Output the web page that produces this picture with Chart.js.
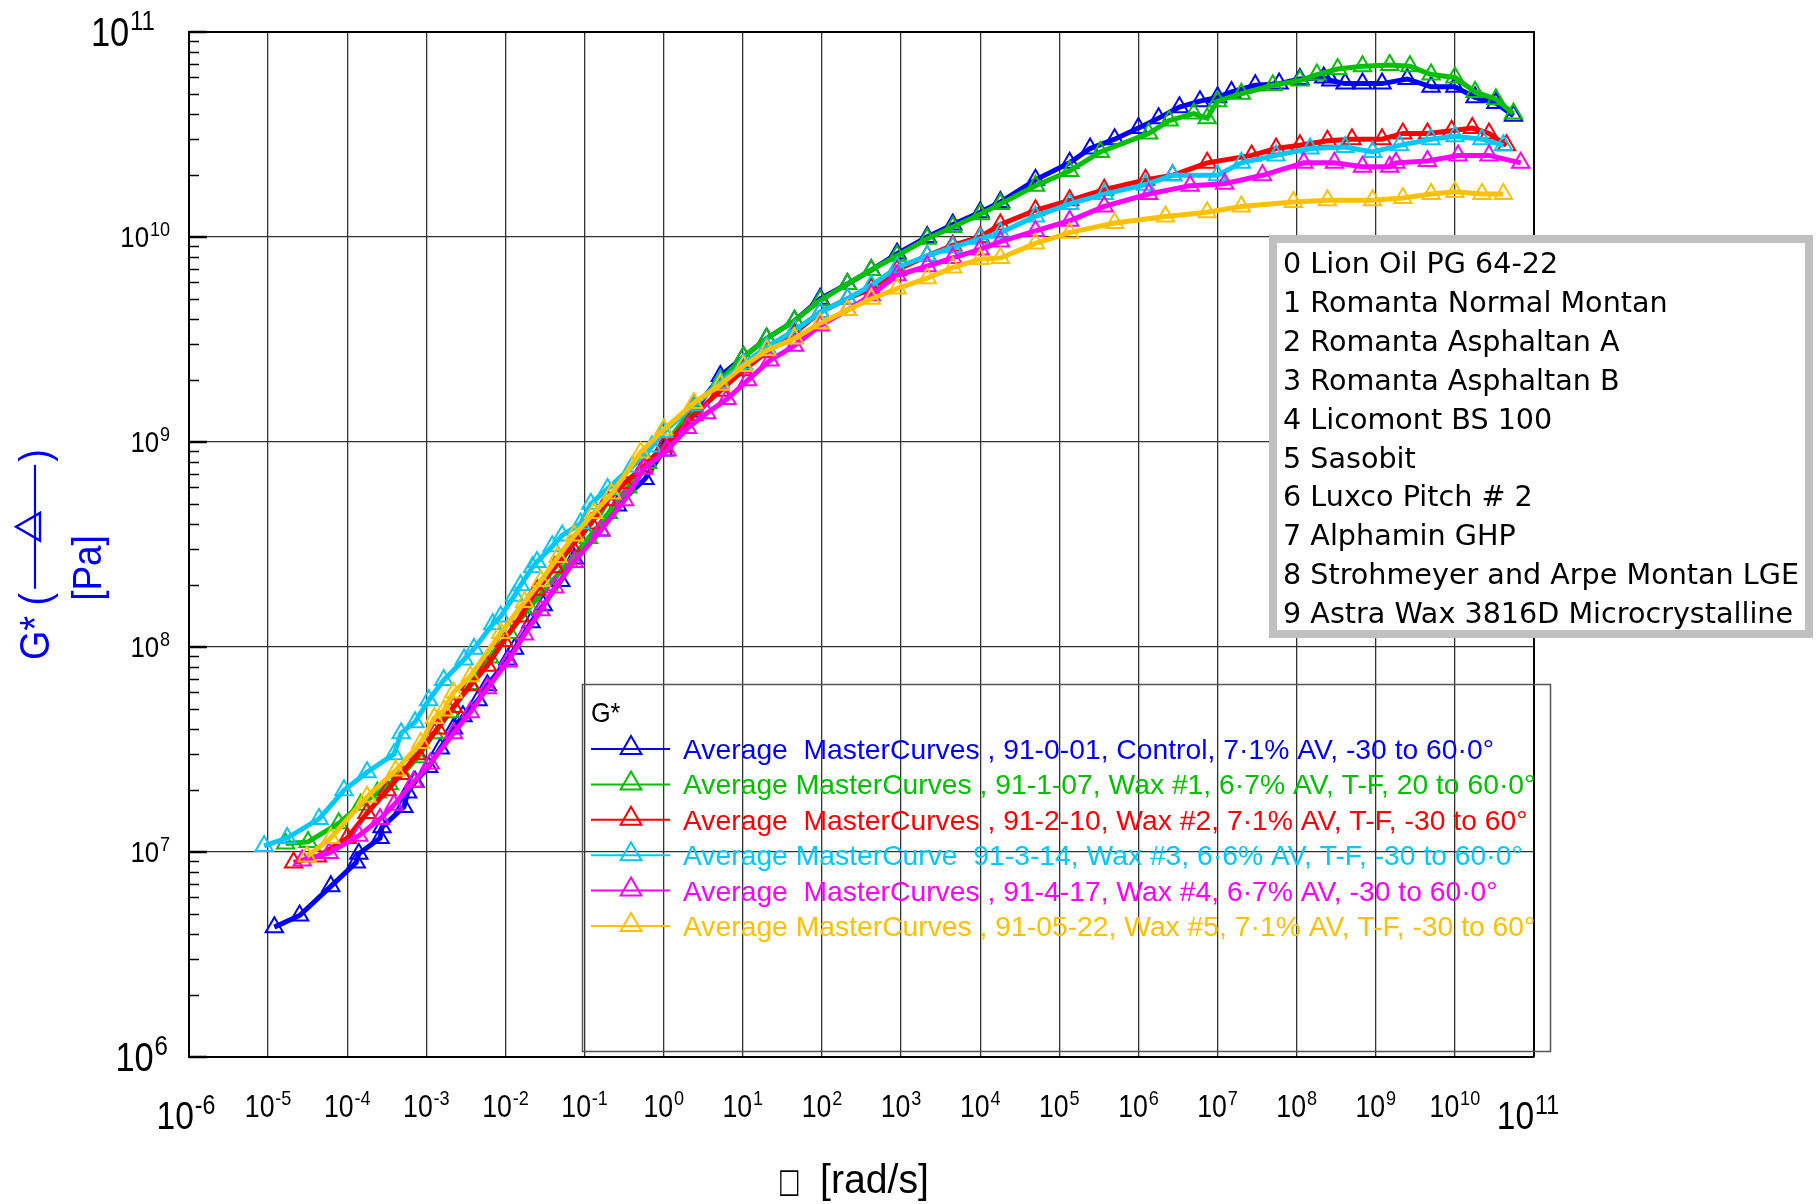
<!DOCTYPE html>
<html>
<head>
<meta charset="utf-8">
<script src="https://cdn.jsdelivr.net/npm/chart.js@4.4.1/dist/chart.umd.min.js"></script>
<style>
html,body{margin:0;padding:0;background:#ffffff;}
#wrap{width:1816px;height:1204px;position:relative;}
</style>
</head>
<body>
<div id="wrap"><canvas id="c" width="1816" height="1204"></canvas></div>
<script>
// ---------- DATA ----------
const W_CONTROL = [1.2e-5, 2.5e-5, 6.2e-5, 1.3e-4, 1.4e-4, 2.6e-4, 2.75e-4, 5.2e-4, 5.8e-4, 7.2e-4, 1.07e-3, 1.5e-3, 2.2e-3, 2.9e-3, 4.5e-3, 5.9e-3, 1.07e-2, 1.3e-2, 2.1e-2, 3.0e-2, 5.0e-2, 7.4e-2, 0.16, 0.26, 0.58, 1.0, 2.4, 5.2, 10.2, 20, 45, 95, 210, 420, 890, 2140, 4500, 1.0e4, 1.8e4, 5.0e4, 1.35e5, 2.45e5, 5.0e5, 1.0e6, 1.8e6, 3.3e6, 6.0e6, 1.0e7, 1.5e7, 3.0e7, 6.0e7, 1.1e8, 2.2e8, 2.7e8, 4.1e8, 6.8e8, 1.2e9, 2.5e9, 5.0e9, 1.0e10, 1.8e10, 3.3e10, 5.5e10];
const G_CONTROL = [4.3e6, 4.9e6, 6.8e6, 8.9e6, 9.8e6, 1.17e7, 1.32e7, 1.66e7, 1.95e7, 2.2e7, 2.6e7, 3.2e7, 4.0e7, 4.6e7, 5.5e7, 6.5e7, 8.7e7, 9.8e7, 1.32e8, 1.6e8, 2.1e8, 2.7e8, 3.7e8, 4.9e8, 6.6e8, 9.1e8, 1.41e9, 2.1e9, 2.6e9, 3.2e9, 3.9e9, 5.0e9, 5.9e9, 6.9e9, 8.3e9, 1.0e10, 1.15e10, 1.32e10, 1.48e10, 1.9e10, 2.3e10, 2.7e10, 3.0e10, 3.4e10, 3.8e10, 4.3e10, 4.6e10, 4.8e10, 5.1e10, 5.5e10, 5.6e10, 5.9e10, 6.0e10, 5.8e10, 5.6e10, 5.6e10, 5.6e10, 5.9e10, 5.4e10, 5.4e10, 4.8e10, 4.5e10, 3.9e10];

const W_WAX1 = [1.66e-5, 3.2e-5, 7.8e-5, 1.48e-4, 2.4e-4, 3.4e-4, 5.0e-4, 7.8e-4, 1.26e-3, 2.0e-3, 3.6e-3, 6.3e-3, 1.12e-2, 2.0e-2, 3.5e-2, 6.3e-2, 0.112, 0.2, 0.35, 0.63, 1.0, 2.4, 5.2, 10.2, 20, 45, 95, 210, 420, 890, 2140, 4500, 1.0e4, 1.8e4, 5.0e4, 1.35e5, 3.3e5, 1.35e6, 2.45e6, 5.0e6, 7.4e6, 1.0e7, 2.0e7, 5.0e7, 1.1e8, 1.8e8, 3.3e8, 6.8e8, 1.5e9, 2.7e9, 5.0e9, 1.0e10, 1.8e10, 3.3e10, 5.5e10];
const G_WAX1 = [1.1e7, 1.12e7, 1.38e7, 1.7e7, 1.95e7, 2.14e7, 2.4e7, 2.9e7, 3.8e7, 4.8e7, 6.6e7, 8.9e7, 1.17e8, 1.55e8, 2.0e8, 2.6e8, 3.4e8, 4.5e8, 6.0e8, 7.9e8, 9.5e8, 1.48e9, 2.0e9, 2.6e9, 3.2e9, 3.9e9, 4.9e9, 5.9e9, 6.9e9, 8.1e9, 9.8e9, 1.12e10, 1.29e10, 1.45e10, 1.78e10, 2.1e10, 2.6e10, 3.2e10, 3.7e10, 4.0e10, 3.8e10, 4.6e10, 5.0e10, 5.5e10, 5.8e10, 6.2e10, 6.6e10, 6.8e10, 6.9e10, 6.8e10, 6.2e10, 6.0e10, 5.1e10, 4.7e10, 4.0e10];

const W_WAX2 = [2.1e-5, 4.2e-5, 1.0e-4, 1.78e-4, 3.2e-4, 4.8e-4, 7.8e-4, 1.38e-3, 2.2e-3, 3.6e-3, 5.9e-3, 9.5e-3, 1.55e-2, 2.5e-2, 4.2e-2, 6.8e-2, 0.12, 0.195, 0.32, 0.56, 1.0, 2.4, 5.2, 10.2, 20, 45, 95, 210, 420, 890, 2140, 4500, 1.0e4, 1.8e4, 5.0e4, 1.35e5, 3.7e5, 1.23e6, 2.7e6, 7.4e6, 2.7e7, 5.5e7, 1.1e8, 2.45e8, 5.0e8, 1.2e9, 2.2e9, 4.5e9, 9.1e9, 1.66e10, 2.7e10, 4.5e10];
const G_WAX2 = [8.9e6, 9.5e6, 1.17e7, 1.55e7, 2.0e7, 2.4e7, 3.0e7, 4.0e7, 5.1e7, 6.5e7, 8.1e7, 1.07e8, 1.41e8, 1.9e8, 2.45e8, 3.1e8, 4.0e8, 5.2e8, 6.3e8, 7.6e8, 9.5e8, 1.35e9, 1.78e9, 2.24e9, 2.75e9, 3.4e9, 4.3e9, 5.0e9, 5.6e9, 6.9e9, 8.1e9, 9.1e9, 1.0e10, 1.15e10, 1.35e10, 1.51e10, 1.7e10, 1.9e10, 2.0e10, 2.3e10, 2.5e10, 2.7e10, 2.8e10, 2.95e10, 3.0e10, 3.0e10, 3.2e10, 3.2e10, 3.3e10, 3.4e10, 3.2e10, 2.8e10];

const W_WAX3 = [8.9e-6, 1.74e-5, 4.4e-5, 9.1e-5, 1.78e-4, 3.9e-4, 4.8e-4, 7.2e-4, 1.07e-3, 1.66e-3, 3.0e-3, 4.0e-3, 6.9e-3, 8.7e-3, 1.3e-2, 1.55e-2, 2.2e-2, 2.5e-2, 3.9e-2, 5.2e-2, 8.9e-2, 0.12, 0.195, 0.4, 0.71, 1.0, 2.4, 5.2, 10.2, 20, 45, 95, 210, 420, 890, 2140, 4500, 1.0e4, 1.8e4, 5.0e4, 1.35e5, 3.7e5, 1.23e6, 2.7e6, 1.0e7, 2.0e7, 5.5e7, 1.48e8, 4.1e8, 9.1e8, 2.0e9, 5.0e9, 1.0e10, 2.2e10, 4.1e10];
const G_WAX3 = [1.07e7, 1.17e7, 1.45e7, 2.0e7, 2.45e7, 3.0e7, 3.8e7, 4.3e7, 5.5e7, 6.9e7, 8.7e7, 9.8e7, 1.29e8, 1.41e8, 1.78e8, 2.0e8, 2.45e8, 2.6e8, 3.1e8, 3.5e8, 4.0e8, 5.0e8, 5.9e8, 7.6e8, 9.5e8, 1.12e9, 1.51e9, 1.95e9, 2.4e9, 2.9e9, 3.5e9, 4.3e9, 5.0e9, 5.8e9, 7.1e9, 8.1e9, 8.9e9, 9.8e9, 1.05e10, 1.26e10, 1.45e10, 1.62e10, 1.8e10, 2.0e10, 2.0e10, 2.3e10, 2.5e10, 2.7e10, 2.75e10, 2.6e10, 2.8e10, 3.0e10, 3.1e10, 3.0e10, 2.8e10];

const W_WAX4 = [2.7e-5, 5.9e-5, 1.4e-4, 2.6e-4, 3.9e-4, 6.9e-4, 1.12e-3, 2.2e-3, 3.6e-3, 5.9e-3, 1.07e-2, 1.74e-2, 2.8e-2, 4.2e-2, 7.4e-2, 0.16, 0.32, 0.56, 1.1, 2.0, 3.5, 6.3, 11.5, 22, 45, 95, 210, 420, 890, 2140, 4500, 1.0e4, 1.8e4, 5.0e4, 1.35e5, 3.7e5, 1.35e6, 4.5e6, 1.23e7, 3.7e7, 1.23e8, 3.0e8, 6.8e8, 1.5e9, 1.8e9, 4.5e9, 1.1e10, 2.7e10, 6.8e10];
const G_WAX4 = [9.1e6, 9.9e6, 1.2e7, 1.45e7, 1.7e7, 2.2e7, 2.7e7, 3.8e7, 4.8e7, 6.3e7, 8.5e7, 1.15e8, 1.51e8, 1.95e8, 2.6e8, 3.7e8, 5.2e8, 7.4e8, 9.1e8, 1.17e9, 1.38e9, 1.62e9, 2.0e9, 2.5e9, 2.95e9, 3.7e9, 4.4e9, 5.2e9, 6.5e9, 7.2e9, 7.9e9, 8.7e9, 9.5e9, 1.07e10, 1.2e10, 1.41e10, 1.62e10, 1.78e10, 1.82e10, 2.0e10, 2.3e10, 2.3e10, 2.2e10, 2.2e10, 2.3e10, 2.35e10, 2.5e10, 2.5e10, 2.3e10];

const W_WAX5 = [3.1e-5, 6.2e-5, 1.78e-4, 4.1e-4, 8.5e-4, 1.26e-3, 1.66e-3, 2.2e-3, 3.6e-3, 8.7e-3, 1.74e-2, 2.8e-2, 4.6e-2, 7.4e-2, 0.13, 0.22, 0.51, 1.0, 2.4, 5.2, 10.2, 20, 45, 95, 210, 420, 890, 2140, 4500, 1.0e4, 1.8e4, 5.0e4, 1.35e5, 5.0e5, 2.2e6, 7.4e6, 2.0e7, 9.1e7, 2.45e8, 9.1e8, 2.2e9, 5.0e9, 1.0e10, 2.2e10, 4.1e10];
const G_WAX5 = [9.5e6, 1.17e7, 1.86e7, 2.5e7, 3.4e7, 4.5e7, 4.9e7, 6.0e7, 7.2e7, 1.17e8, 1.66e8, 2.1e8, 2.75e8, 3.5e8, 4.5e8, 5.6e8, 8.9e8, 1.15e9, 1.55e9, 1.9e9, 2.35e9, 2.8e9, 3.2e9, 3.8e9, 4.4e9, 5.0e9, 5.6e9, 6.3e9, 7.1e9, 7.8e9, 7.9e9, 9.3e9, 1.05e10, 1.17e10, 1.26e10, 1.32e10, 1.41e10, 1.48e10, 1.51e10, 1.51e10, 1.55e10, 1.62e10, 1.66e10, 1.62e10, 1.62e10];

const SERIES_LABELS = [
  'Average  MasterCurves , 91-0-01, Control, 7\u00B71% AV, -30 to 60\u00B70\u00B0',
  'Average MasterCurves , 91-1-07, Wax #1, 6\u00B77% AV, T-F, 20 to 60\u00B70\u00B0',
  'Average  MasterCurves , 91-2-10, Wax #2, 7\u00B71% AV, T-F, -30 to 60\u00B0',
  'Average MasterCurve  91-3-14, Wax #3, 6\u00B76% AV, T-F, -30 to 60\u00B70\u00B0',
  'Average  MasterCurves , 91-4-17, Wax #4, 6\u00B77% AV, -30 to 60\u00B70\u00B0',
  'Average MasterCurves , 91-05-22, Wax #5, 7\u00B71% AV, T-F, -30 to 60\u00B0'
];
const SERIES_COLORS = ['#0000FF', '#00C000', '#FF0000', '#00C8FF', '#FF00FF', '#FFC000'];
const SERIES_W = [W_CONTROL, W_WAX1, W_WAX2, W_WAX3, W_WAX4, W_WAX5];
const SERIES_G = [G_CONTROL, G_WAX1, G_WAX2, G_WAX3, G_WAX4, G_WAX5];

const LEGEND_TITLE = 'G*';
const NOTE_LINES = [
  '0 Lion Oil PG 64-22',
  '1 Romanta Normal Montan',
  '2 Romanta Asphaltan A',
  '3 Romanta Asphaltan B',
  '4 Licomont BS 100',
  '5 Sasobit',
  '6 Luxco Pitch # 2',
  '7 Alphamin GHP',
  '8 Strohmeyer and Arpe Montan LGE',
  '9 Astra Wax 3816D Microcrystalline'
];
const X_TICK_EXPONENTS = [-6, -5, -4, -3, -2, -1, 0, 1, 2, 3, 4, 5, 6, 7, 8, 9, 10, 11];
const Y_TICK_EXPONENTS = [6, 7, 8, 9, 10, 11];
const X_TITLE_GLYPH = '\u25A1';
const X_TITLE = '[rad/s]';
const Y_TITLE_1 = 'G* (';
const Y_TITLE_2 = ')';
const Y_TITLE_UNIT = '[Pa]';

// ---------- helpers ----------
const SANS = '"Liberation Sans", Arial, Helvetica, sans-serif';
const NOTE_FONT = '"DejaVu Sans", Verdana, sans-serif';

function drawText(ctx, s, x, y, size, color, align, sx, family) {
  ctx.save();
  ctx.font = size + 'px ' + (family || SANS);
  ctx.fillStyle = color;
  ctx.textBaseline = 'alphabetic';
  const w = ctx.measureText(s).width * sx;
  let x0 = x;
  if (align === 'center') x0 = x - w / 2;
  else if (align === 'right') x0 = x - w;
  ctx.translate(x0, y);
  ctx.scale(sx, 1);
  ctx.textAlign = 'left';
  ctx.fillText(s, 0, 0);
  ctx.restore();
  return w;
}
function supWidth(ctx, base, exp, bs, ss, sx) {
  ctx.save();
  ctx.font = bs + 'px ' + SANS; const w1 = ctx.measureText(base).width;
  ctx.font = ss + 'px ' + SANS; const w2 = ctx.measureText(exp).width;
  ctx.restore();
  return (w1 + w2 + 1) * sx;
}
function drawPow(ctx, exp, x, baseline, bs, ss, rise, align, sx) {
  const e = String(exp);
  const w = supWidth(ctx, '10', e, bs, ss, sx);
  let x0 = x;
  if (align === 'center') x0 = x - w / 2;
  else if (align === 'right') x0 = x - w;
  const w1 = drawText(ctx, '10', x0, baseline, bs, '#000', 'left', sx);
  drawText(ctx, e, x0 + w1 + sx, baseline - rise, ss, '#000', 'left', sx);
}
function triangle(ctx, x, y, r) {
  ctx.beginPath();
  ctx.moveTo(x, y - r);
  ctx.lineTo(x + r * 0.866, y + r * 0.5);
  ctx.lineTo(x - r * 0.866, y + r * 0.5);
  ctx.closePath();
  ctx.stroke();
}

const decorPlugin = {
  id: 'decor',
  afterDraw(chart) {
    const ctx = chart.ctx;
    const xs = chart.scales.x, ys = chart.scales.y;
    const a = chart.chartArea;
    ctx.save();
    // frame top/right
    ctx.strokeStyle = '#000'; ctx.lineWidth = 2;
    ctx.beginPath();
    ctx.moveTo(a.left, a.top); ctx.lineTo(a.right, a.top); ctx.lineTo(a.right, a.bottom);
    ctx.stroke();
    // y minor / major inward ticks
    ctx.lineWidth = 1.5;
    for (let k = 6; k <= 10; k++) {
      for (let m = 2; m <= 9; m++) {
        const py = Math.round(ys.getPixelForValue(m * Math.pow(10, k))) + 0.5;
        ctx.beginPath(); ctx.moveTo(a.left, py); ctx.lineTo(a.left + 10, py); ctx.stroke();
      }
    }
    ctx.lineWidth = 2.5;
    Y_TICK_EXPONENTS.forEach(e => {
      const py = ys.getPixelForValue(Math.pow(10, e));
      ctx.beginPath(); ctx.moveTo(a.left, py); ctx.lineTo(a.left + 18, py); ctx.stroke();
    });
    // tick labels
    const SX = 0.86;
    Y_TICK_EXPONENTS.forEach(e => {
      const py = ys.getPixelForValue(Math.pow(10, e));
      const big = (e === 11 || e === 6);
      if (big) drawPow(ctx, e, e === 11 ? 155 : 168, py + 14, 40, 28, 16, 'right', SX);
      else drawPow(ctx, e, 170, py + 10, 30, 21, 11, 'right', SX);
    });
    X_TICK_EXPONENTS.forEach(e => {
      const px = xs.getPixelForValue(Math.pow(10, e));
      const big = (e === -6 || e === 11);
      if (big) drawPow(ctx, e, px - (e === 11 ? 6 : 3), 1129, 39, 27, 15, 'center', SX);
      else drawPow(ctx, e, px, 1117, 31, 21, 12, 'center', SX);
    });
    // axis titles
    drawText(ctx, X_TITLE, 820, 1193, 40, '#000', 'left', 0.98);
    drawText(ctx, X_TITLE_GLYPH, 778, 1192, 34, '#000', 'left', 0.7, NOTE_FONT);
    // rotated y title
    ctx.save();
    ctx.rotate(-Math.PI / 2);
    // in rotated frame: x' = -screenY, y' = screenX
    const blue = '#0000FF';
    const w1 = drawText(ctx, Y_TITLE_1, -660, 49, 42, blue, 'left', 0.9);
    const lx0 = -660 + w1 + 4, lx1 = lx0 + 124;
    ctx.strokeStyle = blue; ctx.lineWidth = 2.2;
    ctx.beginPath(); ctx.moveTo(lx0, 35); ctx.lineTo(lx1, 35); ctx.stroke();
    ctx.lineWidth = 2.4;
    triangle(ctx, (lx0 + lx1) / 2, 32, 16);
    drawText(ctx, Y_TITLE_2, lx1 + 3, 49, 42, blue, 'left', 0.9);
    drawText(ctx, Y_TITLE_UNIT, -568, 101, 41, blue, 'center', 0.9);
    ctx.restore();

    // ---- G* legend box ----
    ctx.strokeStyle = '#555'; ctx.lineWidth = 1.5;
    ctx.strokeRect(582.5, 684.5, 968, 367);
    drawText(ctx, LEGEND_TITLE, 591, 722, 28, '#000', 'left', 0.9);
    ctx.font = '28px ' + SANS;
    const lsx = 811 / ctx.measureText(SERIES_LABELS[0]).width;
    SERIES_LABELS.forEach((lab, i) => {
      const cy = 749 + 35.4 * i;
      ctx.strokeStyle = SERIES_COLORS[i]; ctx.lineWidth = 2;
      ctx.beginPath(); ctx.moveTo(591, cy); ctx.lineTo(670, cy); ctx.stroke();
      triangle(ctx, 631, cy - 1, 12);
      drawText(ctx, lab, 683, cy + 10, 28, SERIES_COLORS[i], 'left', lsx);
    });

    // ---- note box ----
    ctx.fillStyle = '#fff';
    ctx.fillRect(1269, 235, 544, 403);
    ctx.strokeStyle = '#C0C0C0'; ctx.lineWidth = 8;
    ctx.strokeRect(1273, 239, 536, 395);
    ctx.font = '29px ' + NOTE_FONT;
    const nsx = 516 / ctx.measureText(NOTE_LINES[8]).width;
    NOTE_LINES.forEach((t, i) => {
      drawText(ctx, t, 1283, 262 + 38.9 * i + 11, 29, '#000', 'left', nsx, NOTE_FONT);
    });
    ctx.restore();
  }
};

const datasets = SERIES_W.map((ws, i) => {
  const gs = SERIES_G[i];
  const n = Math.min(ws.length, gs.length);
  const pts = [];
  for (let j = 0; j < n; j++) pts.push({ x: ws[j], y: gs[j] });
  return {
    label: SERIES_LABELS[i],
    data: pts,
    borderColor: SERIES_COLORS[i],
    backgroundColor: 'rgba(0,0,0,0)',
    borderWidth: 5,
    pointStyle: 'triangle',
    pointRadius: 10,
    pointBorderWidth: 2,
    pointBorderColor: SERIES_COLORS[i],
    pointBackgroundColor: 'rgba(0,0,0,0)',
    tension: 0,
    fill: false,
    order: 5 - i
  };
});

new Chart(document.getElementById('c'), {
  type: 'line',
  data: { datasets },
  options: {
    responsive: false,
    animation: false,
    devicePixelRatio: 1,
    layout: { padding: { left: 189, top: 32, right: 282, bottom: 147 } },
    plugins: { legend: { display: false }, tooltip: { enabled: false } },
    scales: {
      x: {
        type: 'logarithmic', min: 1e-6, max: 1e11,
        afterBuildTicks: s => { s.ticks = X_TICK_EXPONENTS.map(e => ({ value: Math.pow(10, e) })); },
        ticks: { display: false },
        grid: { color: '#333', lineWidth: 1.3, drawTicks: false },
        border: { display: true, color: '#000', width: 2 }
      },
      y: {
        type: 'logarithmic', min: 1e6, max: 1e11,
        afterBuildTicks: s => { s.ticks = Y_TICK_EXPONENTS.map(e => ({ value: Math.pow(10, e) })); },
        ticks: { display: false },
        grid: { color: '#333', lineWidth: 1.3, drawTicks: false },
        border: { display: true, color: '#000', width: 2 }
      }
    }
  },
  plugins: [decorPlugin]
});
</script>
</body>
</html>
